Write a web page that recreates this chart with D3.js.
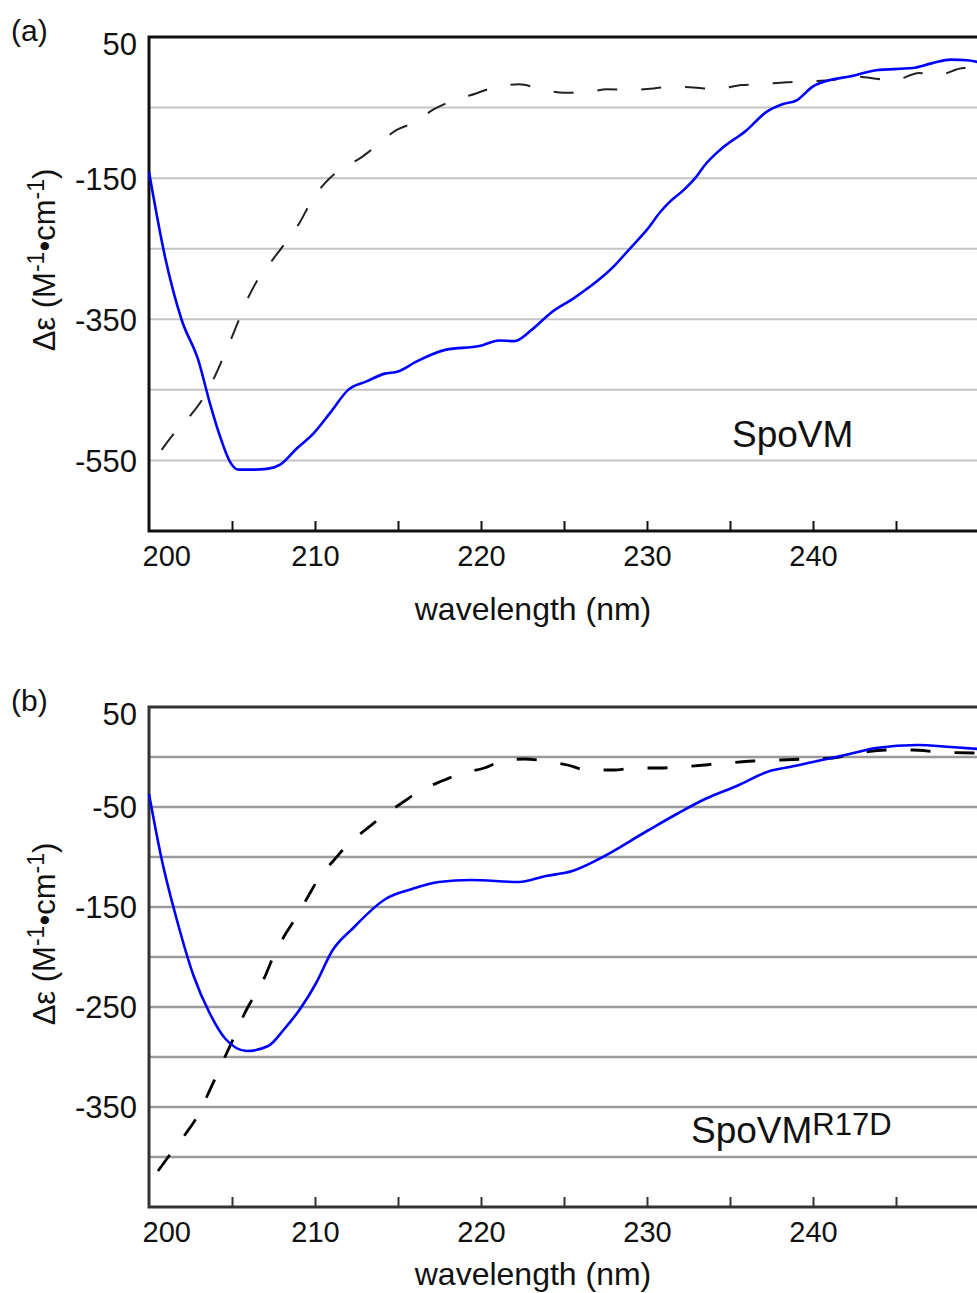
<!DOCTYPE html>
<html>
<head>
<meta charset="utf-8">
<script src="https://cdn.jsdelivr.net/npm/d3@7"></script>
<style>
  body { margin: 0; background: #fff; }
  svg { display: block; font-family: "Liberation Sans", Arial, Helvetica, sans-serif; }
</style>
</head>
<body>
<svg id="chart" width="977" height="1293"></svg>
<script>
// CD spectra, wavelength (nm) vs delta epsilon
const xLabelTicks = [200, 210, 220, 230, 240];
const xMinorTicks = [205, 210, 215, 220, 225, 230, 235, 240, 245];

// panel (a) SpoVM
const yTicksA = [50, -150, -350, -550];
const gridA = [-50, -150, -250, -350, -450, -550];
const solidA = [
  [200.0, -141], [200.96, -261], [201.97, -351], [202.97, -408], [203.67, -469],
  [204.28, -516], [204.88, -552], [205.38, -563], [206.3, -563], [207.1, -562],
  [207.9, -556], [208.9, -533], [209.9, -512], [210.9, -483], [212.0, -450],
  [213.1, -438], [214.2, -427], [215.0, -424], [216.1, -410], [217.9, -393],
  [219.9, -388], [221.1, -380], [222.0, -381], [223.05, -365], [224.2, -341],
  [225.6, -320], [227.2, -292], [228.0, -275], [229.0, -249], [230.0, -223],
  [230.8, -198], [231.4, -183], [232.2, -167], [232.9, -150], [233.5, -131],
  [234.4, -110], [236.0, -82], [237.2, -56], [238.2, -45], [239.0, -40],
  [240.0, -20], [241.2, -10], [242.2, -6], [243.8, 3], [246.0, 6],
  [247.2, 13], [248.3, 18], [249.3, 17], [250.0, 14]
];
const dashedA = [
  [200.76, -535], [201.5, -512], [202.5, -486], [203.2, -464], [203.9, -434],
  [204.4, -408], [205.0, -375], [205.5, -346], [206.0, -318], [206.6, -292],
  [207.5, -264], [208.2, -242], [209.1, -212], [209.7, -186], [210.6, -157],
  [211.5, -138], [212.7, -122], [213.5, -108], [214.9, -82], [215.9, -72],
  [217.2, -52], [218.1, -42], [219.7, -30], [220.7, -22], [222.3, -17],
  [223.5, -23], [225.0, -29], [226.2, -29], [227.6, -24], [228.8, -25],
  [230.4, -23], [231.5, -20], [233.0, -22], [234.2, -24], [235.7, -18],
  [236.8, -17], [238.4, -14], [239.5, -13], [241.2, -11], [242.4, -6],
  [243.8, -9], [244.8, -12], [246.4, -1], [247.5, -4], [249.1, 6], [250.0, 1]
];

// panel (b) SpoVM R17D
const yTicksB = [50, -50, -150, -250, -350];
const gridB = [0, -50, -100, -150, -200, -250, -300, -350, -400];
const solidB = [
  [200.0, -37], [200.76, -102], [201.73, -166], [202.69, -219], [203.65, -256],
  [204.61, -282], [205.9, -294], [207.18, -289], [208.15, -272], [209.1, -252],
  [210.07, -226], [211.03, -194], [212.3, -171], [214.25, -142], [215.85, -132],
  [217.45, -125], [219.4, -123], [222.3, -125], [223.9, -119], [225.5, -114],
  [227.1, -102], [230.0, -74], [231.9, -56], [233.5, -42], [235.4, -29],
  [237.4, -14], [238.6, -10], [240.25, -4], [242.2, 3], [243.8, 9],
  [246.3, 12], [248.3, 10], [250.0, 8]
];
const dashedB = [
  [200.54, -414], [201.2, -399], [202.2, -377], [202.85, -361], [203.5, -339],
  [204.0, -321], [204.6, -299], [205.1, -281], [205.74, -257], [206.4, -237],
  [207.0, -219], [207.5, -199], [208.15, -179], [208.8, -162], [209.6, -139],
  [210.2, -122], [211.2, -102], [212.0, -87], [213.1, -72], [214.1, -59],
  [215.4, -44], [216.3, -34], [217.8, -23], [218.7, -17], [220.2, -11],
  [221.3, -4], [222.6, -2], [223.9, -4], [225.2, -8], [226.4, -13],
  [228.0, -13], [229.3, -11], [230.8, -11], [231.9, -10], [233.5, -8],
  [234.8, -6], [236.4, -4], [238.0, -3], [239.6, -2], [241.2, -1],
  [242.8, 4], [244.4, 7], [246.0, 7], [247.6, 5], [249.8, 4]
];

const svg = d3.select("#chart");
const left = 149, right = 979; // plot runs past the right edge of the picture

const x = d3.scaleLinear().domain([200, 250]).range([left, right]);

function drawPanel(opt) {
  const y = d3.scaleLinear().domain(opt.domain).range([opt.bottom, opt.top]);
  const g = svg.append("g");

  //horizontal grid lines
  g.selectAll("line.grid")
    .data(opt.grid)
    .join("line")
    .attr("class", "grid")
    .attr("x1", left).attr("x2", 977)
    .attr("y1", d => y(d)).attr("y2", d => y(d))
    .attr("stroke", opt.gridColor)
    .attr("stroke-width", opt.gridWidth);

  //frame: top, left and bottom only (right side is cut off)
  g.append("path")
    .attr("d", `M977,${opt.top}H${left}V${opt.bottom}H977`)
    .attr("fill", "none")
    .attr("stroke", opt.frameColor)
    .attr("stroke-width", 3);

  //inward tick marks on the bottom axis
  const tickAxis = g.append("g")
    .attr("transform", `translate(0,${opt.bottom})`)
    .call(d3.axisBottom(x).tickValues(xMinorTicks).tickSize(-10).tickFormat(""));
  tickAxis.select(".domain").remove();
  tickAxis.selectAll("line").attr("stroke", opt.frameColor).attr("stroke-width", 2);

  //x tick labels
  const labelAxis = g.append("g")
    .attr("transform", `translate(0,${opt.bottom})`)
    .call(d3.axisBottom(x).tickValues(xLabelTicks).tickSize(0).tickPadding(14).tickFormat(d => String(d)));
  labelAxis.select(".domain").remove();
  labelAxis.selectAll("text")
    .attr("font-family", "'Liberation Sans', Arial, sans-serif")
    .attr("font-size", 29)
    .attr("fill", "#111")
    .attr("text-anchor", d => d === 200 ? "start" : "middle")
    .attr("dx", d => d === 200 ? -7 : 0);

  //y tick labels (plain hyphen for the minus sign, as in the original)
  const yAxis = g.append("g")
    .attr("transform", `translate(${left},0)`)
    .call(d3.axisLeft(y).tickValues(opt.yTicks).tickSize(0).tickPadding(12).tickFormat(d => String(d)));
  yAxis.select(".domain").remove();
  yAxis.selectAll("text")
    .attr("font-family", "'Liberation Sans', Arial, sans-serif")
    .attr("font-size", 31)
    .attr("fill", "#111")
    .attr("dy", d => d === 50 ? "0.55em" : "0.35em");

  //data lines
  const line = d3.line()
    .x(d => x(d[0]))
    .y(d => y(d[1]))
    .curve(d3.curveMonotoneX);

  g.append("path")
    .datum(opt.dashed)
    .attr("d", line)
    .attr("fill", "none")
    .attr("stroke", opt.dashColor)
    .attr("stroke-width", opt.dashWidth)
    .attr("stroke-dasharray", "20,24");

  g.append("path")
    .datum(opt.solid)
    .attr("d", line)
    .attr("fill", "none")
    .attr("stroke", "#0000ff")
    .attr("stroke-width", 2.6);

  //axis titles
  g.append("text")
    .attr("x", 533)
    .attr("y", opt.xTitleY)
    .attr("text-anchor", "middle")
    .attr("font-size", 32)
    .attr("fill", "#111")
    .text("wavelength (nm)");

  const yt = g.append("text")
    .attr("transform", `translate(55,${opt.yTitleY}) rotate(-90)`)
    .attr("text-anchor", "middle")
    .attr("font-size", 31)
    .attr("fill", "#111");
  yt.append("tspan").text("Δε (M");
  yt.append("tspan").attr("font-size", 23).attr("dy", -11).text("-1");
  yt.append("tspan").attr("dy", 11).text("•cm");
  yt.append("tspan").attr("font-size", 23).attr("dy", -11).text("-1");
  yt.append("tspan").attr("dy", 11).text(")");

  //panel letter
  g.append("text")
    .attr("x", 11)
    .attr("y", opt.top + 4)
    .attr("font-size", 30)
    .attr("fill", "#111")
    .text(opt.letter);

  //sample name
  const name = g.append("text")
    .attr("x", opt.nameX)
    .attr("y", opt.nameY)
    .attr("font-size", 37)
    .attr("fill", "#111");
  name.append("tspan").text("SpoVM");
  if (opt.sup) {
    name.append("tspan")
      .attr("font-size", 31)
      .attr("dy", -8)
      .text(opt.sup);
  }
}

drawPanel({
  top: 37, bottom: 531, domain: [-650, 50],
  yTicks: yTicksA, grid: gridA,
  gridColor: "#c4c4c4", gridWidth: 2, frameColor: "#111",
  solid: solidA, dashed: dashedA, dashColor: "#222", dashWidth: 2,
  xTitleY: 620, yTitleY: 260, letter: "(a)",
  nameX: 732, nameY: 447, sup: null
});

drawPanel({
  top: 707, bottom: 1207, domain: [-450, 50],
  yTicks: yTicksB, grid: gridB,
  gridColor: "#9a9a9a", gridWidth: 2.5, frameColor: "#333",
  solid: solidB, dashed: dashedB, dashColor: "#000", dashWidth: 2.8,
  xTitleY: 1285, yTitleY: 934, letter: "(b)",
  nameX: 691, nameY: 1143, sup: "R17D"
});
</script>
</body>
</html>
